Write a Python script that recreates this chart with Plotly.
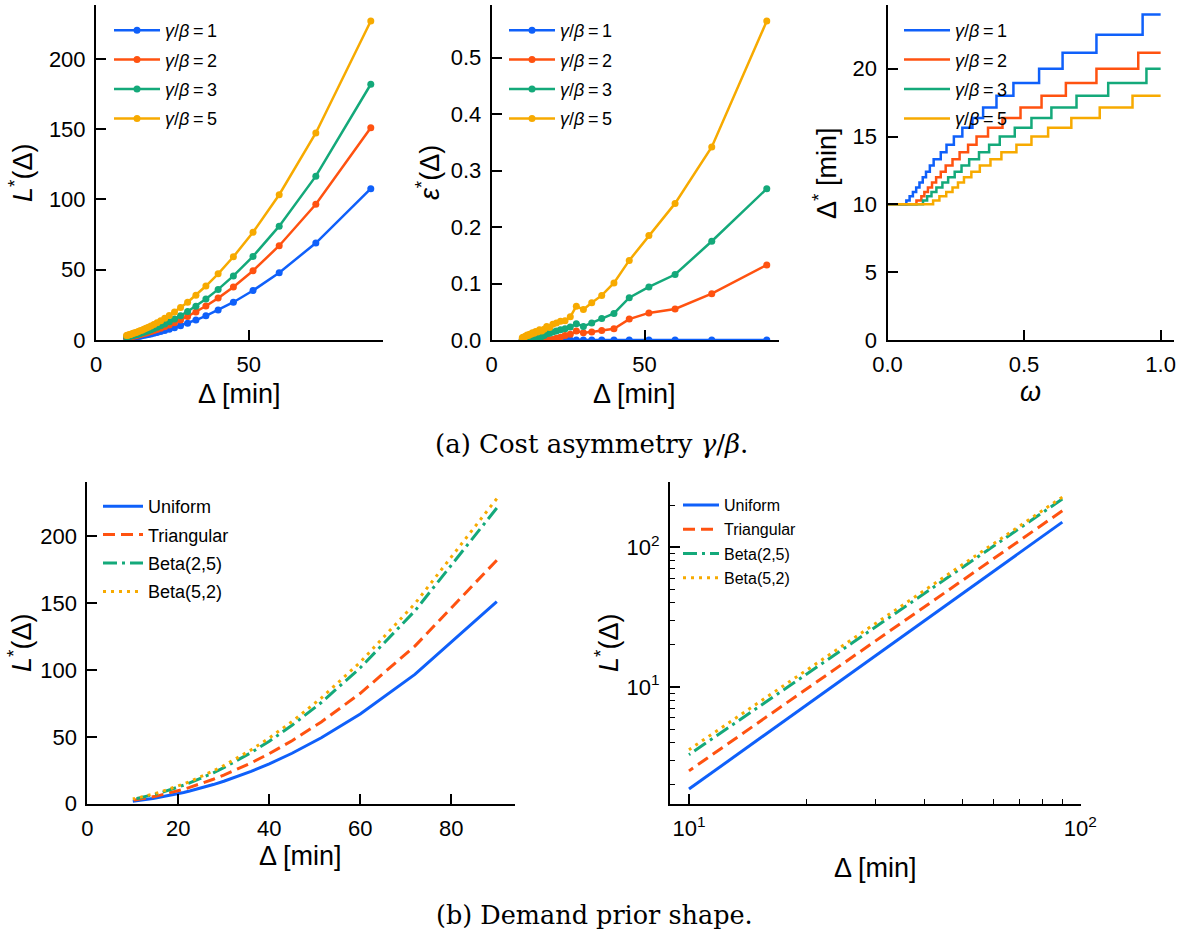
import plotly.graph_objects as go

# ---------------- data ----------------
DELTA = [90, 72, 60, 51.43, 45, 40, 36, 32.73, 30, 27.69, 25.71, 24, 22.5, 21.18, 20,
         18.95, 18, 17.14, 16.36, 15.65, 15, 14.4, 13.85, 13.33, 12.86, 12.41, 12, 11.61,
         11.25, 10.91, 10.59, 10.29, 10]

RATIO_LABELS = ["<i>γ</i>/<i>β</i>\u2009=\u20091", "<i>γ</i>/<i>β</i>\u2009=\u20092",
                "<i>γ</i>/<i>β</i>\u2009=\u20093", "<i>γ</i>/<i>β</i>\u2009=\u20095"]

L_R1 = [107.7, 69.0, 47.9, 35.2, 26.9, 21.3, 17.2, 14.2, 12.0, 10.2, 8.8, 7.7, 6.7, 6.0, 5.3,
        4.8, 4.3, 3.9, 3.6, 3.3, 3.0, 2.75, 2.55, 2.37, 2.2, 2.05, 1.92, 1.8, 1.69, 1.58, 1.49, 1.41, 1.33]
L_R2 = [151.0, 96.6, 67.1, 49.3, 37.7, 29.8, 24.2, 20.0, 16.8, 14.3, 12.3, 10.7, 9.44, 8.36, 7.46,
        6.69, 6.04, 5.48, 4.99, 4.57, 4.19, 3.87, 3.58, 3.31, 3.08, 2.87, 2.68, 2.51, 2.36, 2.22,
        2.09, 1.97, 1.86]
L_R3 = [182.0, 116.6, 81.0, 59.5, 45.6, 36.0, 29.2, 24.1, 20.3, 17.3, 14.9, 13.0, 11.4, 10.1, 9.0,
        8.1, 7.3, 6.6, 6.0, 5.5, 5.1, 4.7, 4.3, 4.0, 3.7, 3.5, 3.2, 3.0, 2.8, 2.7, 2.5, 2.4, 2.25]
L_R5 = [227.0, 147.3, 103.4, 76.7, 59.2, 47.1, 38.4, 31.9, 26.9, 23.1, 20.0, 17.5, 15.4, 13.7, 12.3,
        11.1, 10.0, 9.1, 8.3, 7.6, 7.0, 6.5, 6.0, 5.6, 5.2, 4.9, 4.6, 4.3, 4.0, 3.8, 3.6, 3.4, 3.2]

EPS_R1 = [0, 0, 0, 0, 0, 0, 0, 0, 0, 0, 0, 0, 0, 0, 0, 0, 0, 0, 0, 0, 0, 0, 0, 0, 0, 0, 0, 0,
          0, 0, 0, 0, 0]
EPS_R2 = [0.133, 0.082, 0.055, 0.048, 0.037, 0.020, 0.017, 0.014, 0.013, 0.016, 0.010, 0.008,
          0.005, 0.003, 0.001, 0, 0, 0, 0, 0, 0, 0, 0, 0, 0, 0, 0, 0, 0, 0, 0, 0, 0]
EPS_R3 = [0.268, 0.175, 0.116, 0.094, 0.075, 0.047, 0.038, 0.030, 0.024, 0.029, 0.023, 0.020,
          0.018, 0.016, 0.014, 0.012, 0.011, 0.008, 0.006, 0.005, 0.002, 0, 0, 0, 0, 0, 0, 0,
          0, 0, 0, 0, 0]
EPS_R5 = [0.565, 0.342, 0.242, 0.185, 0.141, 0.101, 0.079, 0.066, 0.054, 0.060, 0.041, 0.034,
          0.033, 0.030, 0.028, 0.022, 0.024, 0.019, 0.016, 0.018, 0.014, 0.015, 0.012, 0.013,
          0.010, 0.010, 0.008, 0.009, 0.007, 0.006, 0.005, 0.005, 0.004]

OMEGA_R1 = [0, 0.069, 0.081, 0.093, 0.105, 0.117, 0.129, 0.141, 0.155, 0.169, 0.195, 0.216,
            0.243, 0.274, 0.311, 0.350, 0.399, 0.461, 0.555, 0.641, 0.765, 0.934, 1.0]
DSTAR_R1 = [10, 10.29, 10.59, 10.91, 11.25, 11.61, 12, 12.41, 12.86, 13.33, 13.85, 14.4, 15,
            15.65, 16.36, 17.14, 18, 18.95, 20, 21.18, 22.5, 24, 24]
OMEGA_R2 = [0, 0.106, 0.124, 0.135, 0.148, 0.163, 0.178, 0.195, 0.213, 0.238, 0.264, 0.295,
            0.326, 0.368, 0.421, 0.487, 0.564, 0.653, 0.765, 0.918, 1.0]
DSTAR_R2 = [10, 10.29, 10.59, 10.91, 11.25, 11.61, 12, 12.41, 12.86, 13.33, 13.85, 14.4, 15,
            15.65, 16.36, 17.14, 18, 18.95, 20, 21.18, 21.18]
OMEGA_R3 = [0, 0.130, 0.145, 0.161, 0.179, 0.201, 0.222, 0.246, 0.271, 0.299, 0.335, 0.372,
            0.411, 0.466, 0.527, 0.600, 0.692, 0.808, 0.948, 1.0]
DSTAR_R3 = [10, 10.29, 10.59, 10.91, 11.25, 11.61, 12, 12.41, 12.86, 13.33, 13.85, 14.4, 15,
            15.65, 16.36, 17.14, 18, 18.95, 20, 20]
OMEGA_R5 = [0, 0.167, 0.190, 0.215, 0.238, 0.258, 0.280, 0.307, 0.338, 0.377, 0.417, 0.472,
            0.527, 0.588, 0.673, 0.777, 0.897, 1.0]
DSTAR_R5 = [10, 10.29, 10.59, 10.91, 11.25, 11.61, 12, 12.41, 12.86, 13.33, 13.85, 14.4, 15,
            15.65, 16.36, 17.14, 18, 18]

PRIOR_LABELS = ["Uniform", "Triangular", "Beta(2,5)", "Beta(5,2)"]
L_UNIFORM = [151.0, 96.6, 67.1, 49.3, 37.7, 29.8, 24.2, 20.0, 16.8, 14.3, 12.3, 10.7, 9.44, 8.36,
             7.46, 6.69, 6.04, 5.48, 4.99, 4.57, 4.19, 3.87, 3.58, 3.31, 3.08, 2.87, 2.68, 2.51,
             2.36, 2.22, 2.09, 1.97, 1.86]
L_TRIANGULAR = [182.0, 117.8, 82.5, 61.1, 47.1, 37.4, 30.49, 25.31, 21.37, 18.27, 15.82, 13.83,
                12.19, 10.83, 9.69, 8.72, 7.89, 7.17, 6.55, 6.01, 5.53, 5.11, 4.73, 4.40, 4.09,
                3.82, 3.58, 3.36, 3.16, 2.97, 2.80, 2.65, 2.51]
L_BETA25 = [221.0, 144.1, 101.6, 75.6, 58.6, 46.7, 38.2, 31.8, 26.9, 23.1, 20.04, 17.56, 15.52,
            13.82, 12.38, 11.17, 10.12, 9.22, 8.43, 7.74, 7.14, 6.60, 6.12, 5.70, 5.31, 4.97,
            4.65, 4.37, 4.11, 3.88, 3.66, 3.46, 3.28]
L_BETA52 = [228.0, 149.5, 105.8, 79.0, 61.4, 49.1, 40.2, 33.6, 28.5, 24.5, 21.27, 18.67, 16.53,
            14.74, 13.23, 11.94, 10.83, 9.88, 9.05, 8.32, 7.67, 7.10, 6.59, 6.14, 5.73, 5.36,
            5.03, 4.73, 4.45, 4.20, 3.97, 3.76, 3.56]

LOG_X_TICKVALS = [10, 100]
LOG_X_TICKTEXT = ["10<sup>1</sup>", "10<sup>2</sup>"]
LOG_Y_TICKVALS = [10, 100]
LOG_Y_TICKTEXT = ["10<sup>1</sup>", "10<sup>2</sup>"]

# ---------------- style ----------------
W, H = 1183, 942
BLUE, RED, GREEN, ORANGE = "#0f60fa", "#ff5210", "#14a97a", "#f7aa00"
COLORS = [BLUE, RED, GREEN, ORANGE]
SANS = "Liberation Sans"
SERIF = "DejaVu Serif"
TICK_SIZE = 22
TITLE_SIZE = 27


def px_x(a, b):
    return [a / W, b / W]


def px_y(top, bottom):
    return [1 - bottom / H, 1 - top / H]


def axis(domain, rng, **kw):
    d = dict(domain=domain, range=rng, showline=True, linecolor="black", linewidth=2,
             ticks="inside", ticklen=10, tickwidth=1.6, tickcolor="black", showgrid=False,
             zeroline=False, automargin=False,
             tickfont=dict(family=SANS, size=TICK_SIZE, color="black"),
             ticklabelstandoff=4)
    d.update(kw)
    return d


fig = go.Figure()

for i, ys in enumerate([L_R1, L_R2, L_R3, L_R5]):
    fig.add_trace(go.Scatter(x=DELTA, y=ys, mode="lines+markers", name=RATIO_LABELS[i],
                             line=dict(color=COLORS[i], width=2.5),
                             marker=dict(size=7, color=COLORS[i]),
                             xaxis="x", yaxis="y", legend="legend", legendgroup="a%d" % i))
for i, ys in enumerate([EPS_R1, EPS_R2, EPS_R3, EPS_R5]):
    fig.add_trace(go.Scatter(x=DELTA, y=ys, mode="lines+markers", name=RATIO_LABELS[i],
                             line=dict(color=COLORS[i], width=2.5),
                             marker=dict(size=7, color=COLORS[i]),
                             xaxis="x2", yaxis="y2", legend="legend2", legendgroup="b%d" % i))
for i, (xs, ys) in enumerate([(OMEGA_R1, DSTAR_R1), (OMEGA_R2, DSTAR_R2),
                              (OMEGA_R3, DSTAR_R3), (OMEGA_R5, DSTAR_R5)]):
    fig.add_trace(go.Scatter(x=xs, y=ys, mode="lines", name=RATIO_LABELS[i],
                             line=dict(color=COLORS[i], width=2.5, shape="hv"),
                             xaxis="x3", yaxis="y3", legend="legend3", legendgroup="c%d" % i))

DASHES = ["solid", "12px,6px", "14px,5px,3px,5px", "3px,5px"]
PRIORS = [L_UNIFORM, L_TRIANGULAR, L_BETA25, L_BETA52]
for i, ys in enumerate(PRIORS):
    fig.add_trace(go.Scatter(x=DELTA, y=ys, mode="lines", name=PRIOR_LABELS[i],
                             line=dict(color=COLORS[i], width=3, dash=DASHES[i]),
                             xaxis="x4", yaxis="y4", legend="legend4", legendgroup="d%d" % i))
for i, ys in enumerate(PRIORS):
    fig.add_trace(go.Scatter(x=DELTA, y=ys, mode="lines", name=PRIOR_LABELS[i],
                             line=dict(color=COLORS[i], width=3, dash=DASHES[i]),
                             xaxis="x5", yaxis="y5", legend="legend5", legendgroup="e%d" % i))

TOP = px_y(5, 340)
BOT = px_y(482.3, 803.7)

layout = dict(
    width=W, height=H, autosize=False,
    margin=dict(l=0, r=0, t=0, b=0, pad=0, autoexpand=False),
    paper_bgcolor="white", plot_bgcolor="white", showlegend=True,
    xaxis=axis(px_x(96, 383), [0, 94], anchor="y", tickmode="array", tickvals=[0, 50]),
    yaxis=axis(TOP, [0, 238.4], anchor="x", dtick=50),
    xaxis2=axis(px_x(491.7, 779), [0, 94], anchor="y2", tickvals=[0, 50]),
    yaxis2=axis(TOP, [0, 0.5935], anchor="x2", dtick=0.1, tickformat=".1f"),
    xaxis3=axis(px_x(887.5, 1174.3), [0, 1.05], anchor="y3", dtick=0.5, tickformat=".1f"),
    yaxis3=axis(TOP, [0, 24.7], anchor="x3", dtick=5),
    xaxis4=axis(px_x(87.3, 515), [0, 94], anchor="y4", dtick=20),
    yaxis4=axis(BOT, [0, 240.2], anchor="x4", dtick=50),
    xaxis5=axis(px_x(670, 1081), [0.9515, 2.002], anchor="y5", type="log",
                tickmode="array", tickvals=LOG_X_TICKVALS, ticktext=LOG_X_TICKTEXT,
                minor=dict(ticks="inside", ticklen=5, tickwidth=1.2, tickcolor="black",
                           tickvals=[20, 30, 40, 50, 60, 70, 80, 90], showgrid=False)),
    yaxis5=axis(BOT, [0.165, 2.464], anchor="x5", type="log",
                tickmode="array", tickvals=LOG_Y_TICKVALS, ticktext=LOG_Y_TICKTEXT,
                minor=dict(ticks="inside", ticklen=5, tickwidth=1.2, tickcolor="black",
                           tickvals=[2, 3, 4, 5, 6, 7, 8, 9, 20, 30, 40, 50, 60, 70, 80, 90, 200],
                           showgrid=False)),
)


def legend(x_px, y_px, size, gap, iw):
    return dict(x=x_px / W, y=1 - y_px / H, xanchor="left", yanchor="top",
                bgcolor="rgba(0,0,0,0)", borderwidth=0,
                font=dict(family=SANS, size=size, color="black"),
                itemwidth=iw, tracegroupgap=gap, traceorder="grouped")


layout["legend"] = legend(109, 12, 18, 3, 46)
layout["legend2"] = legend(504, 12, 18, 3, 46)
layout["legend3"] = legend(899, 12, 18, 3, 46)
layout["legend4"] = legend(98, 488, 18, 2, 40)
layout["legend5"] = legend(678, 488, 16, 0.5, 36)

ann = []


def add_text(x, y, text, size, angle=0, family=SANS):
    ann.append(dict(x=x / W, y=1 - y / H, xref="paper", yref="paper", text=text,
                    showarrow=False, textangle=angle, xanchor="center", yanchor="middle",
                    font=dict(family=family, size=size, color="black")))


add_text(239, 394, "Δ [min]", TITLE_SIZE)
add_text(634, 394, "Δ [min]", TITLE_SIZE)
add_text(1030, 392, "<i>ω</i>", TITLE_SIZE)
add_text(300, 856, "Δ [min]", TITLE_SIZE)
add_text(875, 868, "Δ [min]", TITLE_SIZE)
add_text(21, 173, "<i>L</i><sup>*</sup>(Δ)", TITLE_SIZE, -90)
add_text(428, 173, "<i>ε</i><sup>*</sup>(Δ)", TITLE_SIZE, -90)
add_text(825, 174, "Δ<sup>*</sup> [min]", TITLE_SIZE, -90)
add_text(20, 643, "<i>L</i><sup>*</sup>(Δ)", TITLE_SIZE, -90)
add_text(607, 643, "<i>L</i><sup>*</sup>(Δ)", TITLE_SIZE, -90)
add_text(591, 444, "(a) Cost asymmetry <i>γ</i>/<i>β</i>.", 26, family=SERIF)
add_text(594, 915, "(b) Demand prior shape.", 25.5, family=SERIF)
layout["annotations"] = ann

fig.update_layout(**layout)
fig.write_html("out.html", config={"responsive": False, "displayModeBar": False},
               post_script="document.body.style.margin='0';document.body.style.overflow='hidden';")
